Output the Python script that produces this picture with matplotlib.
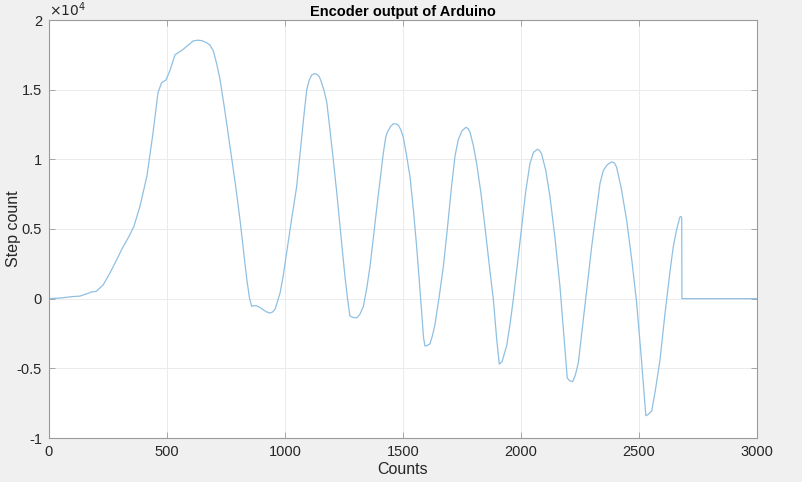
import matplotlib
matplotlib.use("Agg")
import matplotlib.pyplot as plt
from matplotlib.ticker import FuncFormatter, MultipleLocator

counts = [0, 50, 100, 130, 160, 180, 200, 230, 260, 290, 310, 340, 360, 385, 415, 440, 462, 477, 496, 513,
          534, 569, 590, 611, 630, 647, 665, 682, 696, 710, 725, 745, 767, 790, 809, 825, 838, 850, 859, 870,
          880, 895, 908, 922, 936, 948, 958, 968, 979, 992, 1007, 1028, 1049, 1065, 1078, 1092, 1103, 1113,
          1125, 1135, 1145, 1155, 1166, 1177, 1190, 1205, 1220, 1233, 1244, 1254, 1265, 1275, 1290, 1304,
          1318, 1332, 1346, 1360, 1374, 1388, 1403, 1417, 1427, 1434, 1447, 1459, 1470, 1480, 1490, 1501,
          1515, 1530, 1545, 1558, 1569, 1579, 1587, 1593, 1604, 1614, 1624, 1635, 1653, 1671, 1689, 1706,
          1720, 1734, 1750, 1767, 1776, 1784, 1798, 1812, 1830, 1847, 1865, 1883, 1897, 1908, 1920, 1939,
          1953, 1967, 1985, 2003, 2020, 2038, 2053, 2069, 2078, 2087, 2105, 2123, 2145, 2165, 2182, 2196,
          2207, 2219, 2230, 2243, 2260, 2278, 2300, 2320, 2335, 2349, 2365, 2384, 2395, 2405, 2425, 2448,
          2470, 2490, 2510, 2529, 2540, 2554, 2570, 2589, 2610, 2631, 2645, 2660, 2673, 2678, 2681, 2682,
          3000]

steps = [0, 50, 150, 180, 350, 480, 520, 1000, 1900, 2900, 3600, 4500, 5200, 6600, 8800, 11800, 14800,
         15500, 15700, 16400, 17500, 17900, 18200, 18500, 18550, 18520, 18400, 18200, 17800, 16900, 15700,
         13500, 10900, 8200, 5700, 3300, 1400, 0, -550, -500, -520, -650, -800, -950, -1030, -950, -750,
         -200, 400, 1600, 3300, 5700, 8000, 10600, 12800, 15000, 15700, 16050, 16150, 16100, 15950, 15500,
         14900, 14100, 12200, 9900, 7500, 5200, 3300, 1600, 0, -1250, -1350, -1380, -1100, -550, 700, 2300,
         4300, 6400, 8500, 10500, 11600, 11950, 12350, 12550, 12550, 12450, 12150, 11600, 10300, 8700, 6200,
         3700, 1300, -1000, -2800, -3400, -3350, -3250, -2700, -1900, 100, 2300, 5200, 8100, 10200, 11400,
         12050, 12300, 12200, 11950, 11000, 9700, 7600, 5200, 2500, -100, -2900, -4700, -4500, -3400, -1900,
         -100, 2500, 5200, 7700, 9700, 10500, 10720, 10650, 10400, 9200, 7300, 4200, 900, -2700, -5700,
         -5900, -5950, -5500, -4600, -2100, 600, 3800, 6400, 8300, 9200, 9600, 9820, 9750, 9450, 7900, 5600,
         2700, -300, -4300, -8400, -8300, -8050, -6500, -4400, -1100, 1900, 3700, 5000, 5850, 5900, 5800, 0,
         0]

title = "Encoder output of Arduino"
xlabel = "Counts"
ylabel = "Step count"

plt.rcParams['font.family'] = ['Liberation Sans', 'DejaVu Sans']
txt = '#262626'

fig = plt.figure(figsize=(8.03, 4.82), dpi=100, facecolor='#f0f0f0')
ax = fig.add_axes([49/803, 1-438/482, (757-49)/803, (438-20)/482])
ax.set_facecolor('white')

ax.plot(counts, steps, color='#8fc0e2', lw=0.9, solid_joinstyle='round')

ax.set_xlim(0, 3000)
ax.set_ylim(-1e4, 2e4)
ax.xaxis.set_major_locator(MultipleLocator(500))
ax.yaxis.set_major_locator(MultipleLocator(5000))
ax.yaxis.set_major_formatter(FuncFormatter(lambda v, p: '%g' % (v / 1e4)))

ax.grid(True, color='#ebebeb', lw=0.7)
ax.set_axisbelow(True)
for s in ax.spines.values():
    s.set_color('#9a9a9a')
    s.set_linewidth(0.8)
ax.tick_params(direction='in', length=4, width=0.6, color='#9a9a9a', labelcolor=txt,
               labelsize=10.5, top=True, right=True, pad=5)

ax.set_title(title, fontsize=10.5, fontweight='bold', color='black', pad=3)
ax.set_xlabel(xlabel, fontsize=11.5, color=txt, labelpad=2)
ax.set_ylabel(ylabel, fontsize=11.5, color=txt)
ax.yaxis.set_label_coords(-0.04, 0.5)
ax.text(0, 1.003, r'$\times10^{4}$', transform=ax.transAxes, fontsize=10, color=txt,
        ha='left', va='bottom')

fig.savefig('out.png', dpi=100, facecolor=fig.get_facecolor())
